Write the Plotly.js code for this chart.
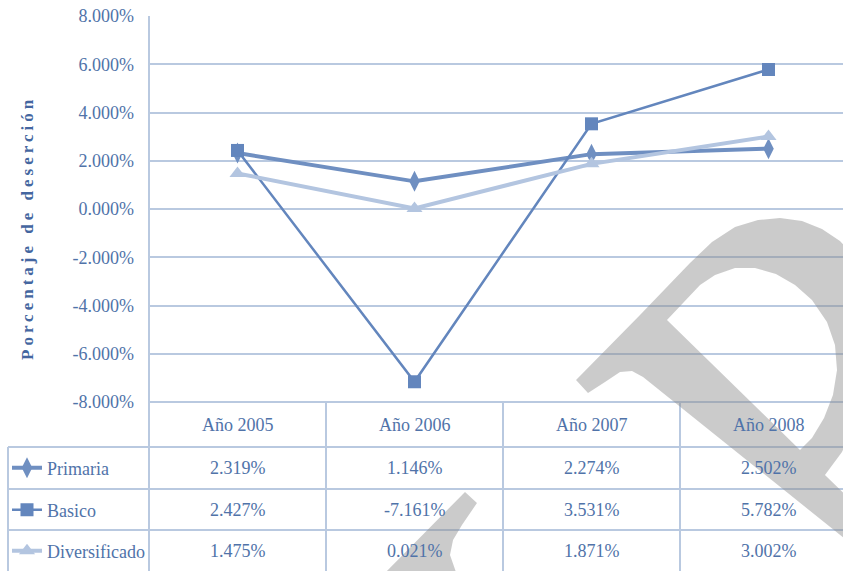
<!DOCTYPE html>
<html>
<head>
<meta charset="utf-8">
<script src="https://cdn.plot.ly/plotly-3.0.1.min.js"></script>
<style>html,body{margin:0;padding:0;background:#fff;}#chart{width:843px;height:571px;}</style>
</head>
<body>
<div id="chart"></div>
<script>
// ---- data ----
const categories = ['Año 2005', 'Año 2006', 'Año 2007', 'Año 2008'];
const seriesNames = ['Primaria', 'Basico', 'Diversificado'];
const primaria = [2.319, 1.146, 2.274, 2.502];
const basico = [2.427, -7.161, 3.531, 5.782];
const diversificado = [1.475, 0.021, 1.871, 3.002];
const yTickValues = [-8, -6, -4, -2, 0, 2, 4, 6, 8];
const yTickText = ['-8.000%', '-6.000%', '-4.000%', '-2.000%', '0.000%', '2.000%', '4.000%', '6.000%', '8.000%'];
const yTitle = 'Porcentaje de deserción';

// ---- layout helpers (pixel -> paper) ----
const W = 843, H = 571;
const px = x => x / W;
const py = y => (H - y) / H;
const PLOT_L = 149, PLOT_T = 16, PLOT_B = 402, COL = 177;
const xRange = [-0.5, -0.5 + (W - PLOT_L) / COL];

const textBlue = '#5073a9';
const gridBlue = '#b9c9e0';
const serif = 'Liberation Serif, Times New Roman, serif';

const seriesValues = [primaria, basico, diversificado];
const seriesStyle = [
  {color: '#6f8fc1', width: 4, symbol: 'diamond-tall', size: 15},
  {color: '#6386bd', width: 2.5, symbol: 'square', size: 13},
  {color: '#b3c5e0', width: 4, symbol: 'triangle-up', size: 14}
];
const rowCenters = [468, 510, 551];
const legendIds = ['legend', 'legend2', 'legend3'];

const traces = seriesNames.map((name, i) => ({
  type: 'scatter', mode: 'lines+markers', name: name,
  x: categories, y: seriesValues[i],
  line: {color: seriesStyle[i].color, width: seriesStyle[i].width},
  marker: {color: seriesStyle[i].color, symbol: seriesStyle[i].symbol, size: seriesStyle[i].size},
  legend: legendIds[i],
  hoverinfo: 'x+y+name'
}));

// table annotations
const annotations = [];
categories.forEach((c, j) => {
  annotations.push({x: j, xref: 'x', y: py(425), yref: 'paper', text: c, showarrow: false,
    font: {family: serif, size: 18, color: textBlue}, xanchor: 'center', yanchor: 'middle'});
  seriesValues.forEach((vals, i) => {
    annotations.push({x: j, xref: 'x', y: py(rowCenters[i]), yref: 'paper',
      text: vals[j].toFixed(3) + '%', showarrow: false,
      font: {family: serif, size: 18, color: textBlue}, xanchor: 'center', yanchor: 'middle'});
  });
});
annotations.push({x: px(27), xref: 'paper', y: py(228), yref: 'paper', text: yTitle,
  textangle: -90, showarrow: false, font: {family: serif, size: 17, color: '#4466a0', weight: 'bold'},
  xanchor: 'center', yanchor: 'middle'});

// table borders
const lineStyle = {color: gridBlue, width: 2};
const shapes = [];
shapes.push({type: 'line', xref: 'paper', yref: 'paper', x0: px(PLOT_L), x1: px(PLOT_L), y0: 0, y1: py(PLOT_T), line: lineStyle, layer: 'below'});
[0.5, 1.5, 2.5].forEach(v => shapes.push({type: 'line', xref: 'x', yref: 'paper', x0: v, x1: v, y0: 0, y1: py(PLOT_B), line: lineStyle, layer: 'below'}));
shapes.push({type: 'line', xref: 'paper', yref: 'paper', x0: px(PLOT_L), x1: 1, y0: py(PLOT_B), y1: py(PLOT_B), line: lineStyle, layer: 'below'});
[447, 489, 530].forEach(y => shapes.push({type: 'line', xref: 'paper', yref: 'paper', x0: px(8), x1: 1, y0: py(y), y1: py(y), line: lineStyle, layer: 'below'}));
shapes.push({type: 'line', xref: 'paper', yref: 'paper', x0: px(8), x1: px(8), y0: 0, y1: py(447), line: lineStyle, layer: 'below'});

// watermark (grey letter strokes)
function pathFrom(pts) {
  return pts.map((p, k) => (k ? 'L' : 'M') + px(p[0]).toFixed(4) + ',' + py(p[1]).toFixed(4)).join(' ') + ' Z';
}
const wmOuter = [[576,380],[640,315],[690,263],[712,242],[735,227],[758,220],[780,218],[802,221],[822,229],[840,241],[856,258],[866,280],[872,310],[872,345],[866,385],[856,420],[842,452],[825,475],[950,597],[950,623],[643,377],[632,371],[620,372],[605,382],[588,393]];
const wmHole = [[667,320],[800,450],[812,438],[824,418],[833,395],[837,370],[835,345],[827,322],[812,300],[795,285],[776,274],[755,268],[735,268],[715,275],[700,285]];
const wmPiece = [[465,492],[477,503],[462,525],[453,540],[450,555],[457,575],[383,575]];
shapes.push({type: 'path', xref: 'paper', yref: 'paper', path: pathFrom(wmOuter) + ' ' + pathFrom(wmHole),
  fillcolor: 'rgba(140,140,140,0.45)', line: {width: 0}, layer: 'above'});
shapes.push({type: 'path', xref: 'paper', yref: 'paper', path: pathFrom(wmPiece),
  fillcolor: 'rgba(140,140,140,0.45)', line: {width: 0}, layer: 'above'});

const legendBase = {xanchor: 'left', yanchor: 'middle', bgcolor: 'rgba(0,0,0,0)', borderwidth: 0,
  font: {family: serif, size: 18, color: textBlue}, itemwidth: 30};
const layout = {
  width: W, height: H,
  margin: {l: 0, r: 0, t: 0, b: 0},
  paper_bgcolor: '#fff', plot_bgcolor: '#fff',
  showlegend: true,
  xaxis: {domain: [px(PLOT_L), 1], range: xRange, type: 'category', showticklabels: false,
    showgrid: false, zeroline: false, showline: false, ticks: ''},
  yaxis: {domain: [py(PLOT_B), py(PLOT_T)], range: [-8, 8], tickvals: yTickValues, ticktext: yTickText,
    showgrid: true, gridcolor: gridBlue, gridwidth: 2,
    zeroline: false, showline: false, ticks: '', ticklabelstandoff: 14,
    tickfont: {family: serif, size: 18, color: textBlue}},
  annotations: annotations,
  shapes: shapes,
  legend: Object.assign({}, legendBase, {x: px(7), y: py(rowCenters[0])}),
  legend2: Object.assign({}, legendBase, {x: px(7), y: py(rowCenters[1])}),
  legend3: Object.assign({}, legendBase, {x: px(7), y: py(rowCenters[2])})
};

Plotly.newPlot('chart', traces, layout, {displayModeBar: false, staticPlot: true}).then(() => {
  document.querySelectorAll('.annotation-text').forEach(t => {
    if (t.textContent === yTitle) t.style.letterSpacing = '4px';
  });
});
</script>
</body>
</html>
